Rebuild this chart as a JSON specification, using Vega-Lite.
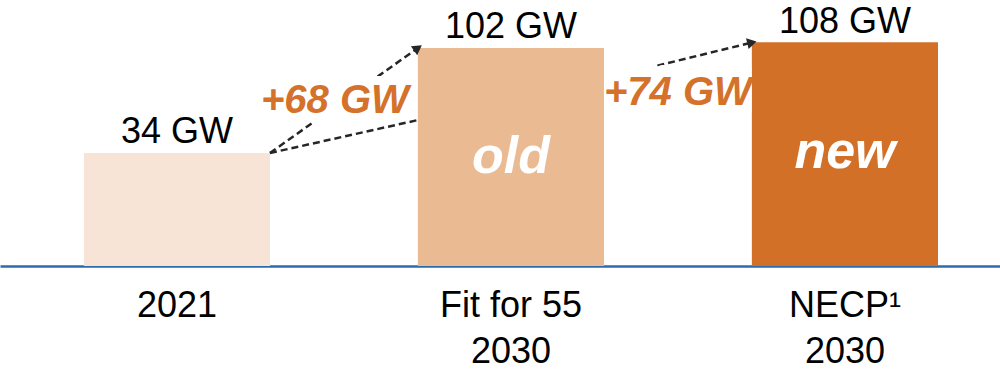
{
  "$schema": "https://vega.github.io/schema/vega-lite/v6.json",
  "width": 1000,
  "height": 266,
  "autosize": {"type": "none"},
  "padding": {"left": 0, "top": 0, "right": 0, "bottom": 109},
  "background": "white",
  "config": {
    "view": {"stroke": null},
    "font": "Liberation Sans",
    "text": {"font": "Liberation Sans"}
  },
  "datasets": {
    "capacity": [
      {"cat": "2021", "gw": 34, "label": "34 GW", "tag": ""},
      {"cat": "Fit for 55|2030", "gw": 102, "label": "102 GW", "tag": "old"},
      {"cat": "NECP¹|2030", "gw": 108, "label": "108 GW", "tag": "new"}
    ],
    "links": [
      {"from": "2021", "to": "Fit for 55|2030", "y1": 34, "y2": 102, "head": "a"},
      {"from": "2021", "to": "Fit for 55|2030", "y1": 34, "y2": 48, "head": ""},
      {"from": "Fit for 55|2030", "to": "NECP¹|2030", "y1": 74, "y2": 108, "head": "b"}
    ],
    "steps": [
      {"at": "Fit for 55|2030", "gw": 102, "text": "+68 GW"},
      {"at": "NECP¹|2030", "gw": 108, "text": "+74 GW"}
    ]
  },
  "layer": [
    {
      "data": {"name": "capacity"},
      "mark": {"type": "bar"},
      "encoding": {
        "x": {
          "field": "cat",
          "type": "nominal",
          "scale": {"paddingInner": 0.443, "paddingOuter": 0.2185, "align": 0.575},
          "axis": {
            "title": null,
            "ticks": false,
            "tickSize": 0,
            "domain": true,
            "domainColor": "#2C6BAE",
            "domainWidth": 2.5,
            "labelAngle": 0,
            "labelFont": "Liberation Sans",
            "labelFontSize": 36,
            "labelColor": "#000000",
            "labelPadding": 22,
            "labelLineHeight": 46,
            "labelLimit": 400,
            "labelBaseline": "top",
            "labelExpr": "split(datum.label, '|')"
          }
        },
        "y": {
          "field": "gw",
          "type": "quantitative",
          "scale": {"type": "log", "domain": [10.43, 168.5], "nice": false},
          "axis": null
        },
        "y2": {"datum": 10.43},
        "color": {
          "field": "cat",
          "type": "nominal",
          "scale": {
            "domain": ["2021", "Fit for 55|2030", "NECP¹|2030"],
            "range": ["#F7E4D6", "#EABA92", "#D27027"]
          },
          "legend": null
        }
      }
    },
    {
      "data": {"name": "links"},
      "mark": {"type": "rule", "color": "#262626", "strokeWidth": 2.5, "strokeDash": [7, 4]},
      "encoding": {
        "x": {"field": "from", "type": "nominal", "bandPosition": 1},
        "x2": {"field": "to", "bandPosition": 0},
        "y": {"field": "y1", "type": "quantitative"},
        "y2": {"field": "y2"}
      }
    },
    {
      "data": {"name": "steps"},
      "transform": [{"filter": "datum.text === '+68 GW'"}],
      "mark": {"type": "text", "baseline": "alphabetic", "align": "center", "dx": -83, "dy": 65, "fontSize": 40, "fontWeight": "bold", "fontStyle": "italic", "color": "#FFFFFF", "stroke": "#FFFFFF", "strokeWidth": 18, "strokeJoin": "round"},
      "encoding": {
        "x": {"field": "at", "type": "nominal", "bandPosition": 0},
        "y": {"field": "gw", "type": "quantitative"},
        "text": {"field": "text"}
      }
    },
    {
      "data": {"name": "steps"},
      "transform": [{"filter": "datum.text === '+74 GW'"}],
      "mark": {"type": "text", "baseline": "alphabetic", "align": "center", "dx": -74, "dy": 62, "fontSize": 40, "fontWeight": "bold", "fontStyle": "italic", "color": "#FFFFFF", "stroke": "#FFFFFF", "strokeWidth": 24, "strokeJoin": "round"},
      "encoding": {
        "x": {"field": "at", "type": "nominal", "bandPosition": 0},
        "y": {"field": "gw", "type": "quantitative"},
        "text": {"field": "text"}
      }
    },
    {
      "data": {"name": "capacity"},
      "mark": {"type": "bar"},
      "encoding": {
        "x": {"field": "cat", "type": "nominal"},
        "y": {"field": "gw", "type": "quantitative"},
        "y2": {"datum": 10.43},
        "color": {"field": "cat", "type": "nominal", "legend": null}
      }
    },
    {
      "data": {"name": "links"},
      "transform": [{"filter": "datum.head === 'a'"}],
      "mark": {"type": "point", "shape": "triangle-right", "filled": true, "color": "#262626", "opacity": 1, "size": 120, "angle": -35},
      "encoding": {
        "x": {"field": "to", "type": "nominal", "bandPosition": 0},
        "y": {"field": "y2", "type": "quantitative"}
      }
    },
    {
      "data": {"name": "links"},
      "transform": [{"filter": "datum.head === 'b'"}],
      "mark": {"type": "point", "shape": "triangle-right", "filled": true, "color": "#262626", "opacity": 1, "size": 120, "angle": -14},
      "encoding": {
        "x": {"field": "to", "type": "nominal", "bandPosition": 0},
        "y": {"field": "y2", "type": "quantitative"}
      }
    },
    {
      "data": {"name": "steps"},
      "transform": [{"filter": "datum.text === '+68 GW'"}],
      "mark": {"type": "text", "baseline": "alphabetic", "align": "center", "dx": -83, "dy": 65, "fontSize": 40, "fontWeight": "bold", "fontStyle": "italic", "color": "#D4712A"},
      "encoding": {
        "x": {"field": "at", "type": "nominal", "bandPosition": 0},
        "y": {"field": "gw", "type": "quantitative"},
        "text": {"field": "text"}
      }
    },
    {
      "data": {"name": "steps"},
      "transform": [{"filter": "datum.text === '+74 GW'"}],
      "mark": {"type": "text", "baseline": "alphabetic", "align": "center", "dx": -74, "dy": 62, "fontSize": 40, "fontWeight": "bold", "fontStyle": "italic", "color": "#D4712A"},
      "encoding": {
        "x": {"field": "at", "type": "nominal", "bandPosition": 0},
        "y": {"field": "gw", "type": "quantitative"},
        "text": {"field": "text"}
      }
    },
    {
      "data": {"name": "capacity"},
      "mark": {"type": "text", "baseline": "alphabetic", "align": "center", "dy": -10, "fontSize": 36, "color": "#000000"},
      "encoding": {
        "x": {"field": "cat", "type": "nominal"},
        "y": {"field": "gw", "type": "quantitative"},
        "text": {"field": "label"}
      }
    },
    {
      "data": {"name": "capacity"},
      "mark": {"type": "text", "baseline": "alphabetic", "align": "center", "dy": 125, "fontSize": 52, "fontWeight": "bold", "fontStyle": "italic", "color": "#FFFFFF"},
      "encoding": {
        "x": {"field": "cat", "type": "nominal"},
        "y": {"field": "gw", "type": "quantitative"},
        "text": {"field": "tag"}
      }
    }
  ]
}
